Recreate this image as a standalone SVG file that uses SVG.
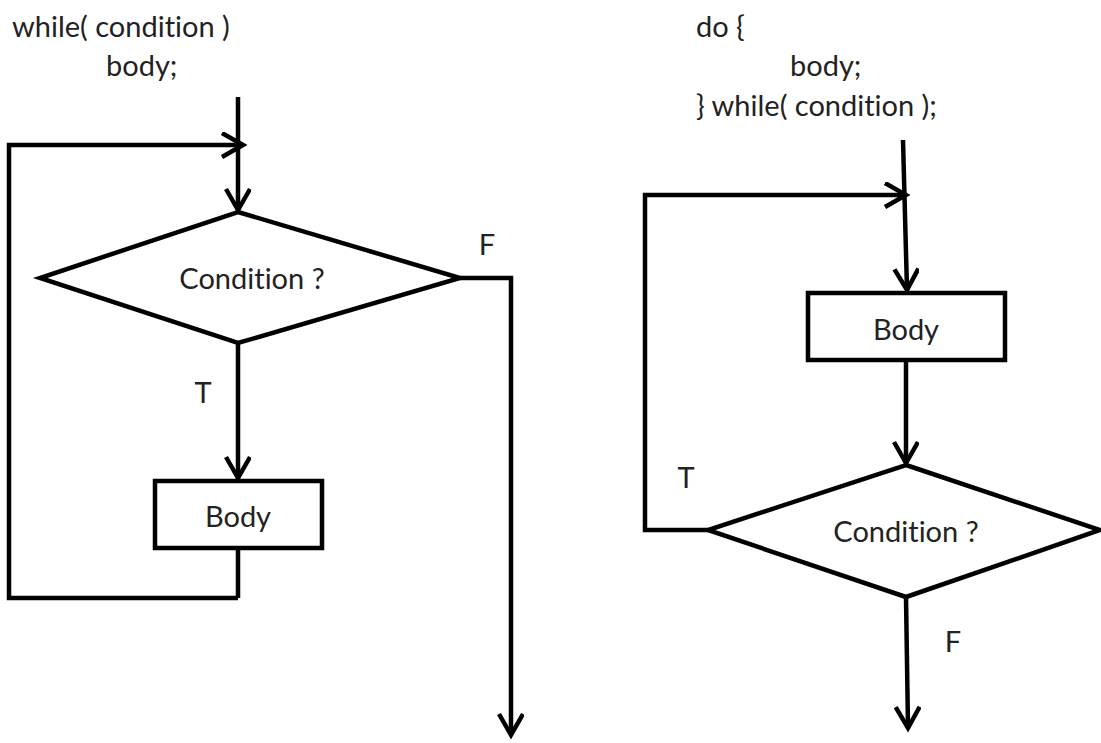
<svg xmlns="http://www.w3.org/2000/svg" width="1101" height="743" viewBox="0 0 1101 743">
<style>
.ln{fill:none;stroke:#000;stroke-width:4.5;stroke-linejoin:miter}
.nd{fill:#fff;stroke:#000;stroke-width:4.5}
.tx{font-family:Lato,"Liberation Sans",sans-serif;font-size:29px;fill:#222;font-variant-ligatures:none}
.c{text-anchor:middle}
</style>
<defs>
<marker id="ah" markerUnits="userSpaceOnUse" markerWidth="30" markerHeight="30" refX="24" refY="13" orient="auto">
<path d="M3,1 L24,13 L3,25" fill="none" stroke="#000" stroke-width="4.5"/>
</marker>
</defs>
<rect width="1101" height="743" fill="#fff"/>
<g id="code">
<text class="tx" x="12" y="37">while( condition )</text>
<text class="tx" x="106" y="76">body;</text>
<text class="tx" x="696" y="37">do {</text>
<text class="tx" x="790" y="76">body;</text>
<text class="tx" x="696" y="116">} while( condition );</text>
</g>
<g id="connectors">
<path class="ln" d="M238,97 L238,210" marker-end="url(#ah)"/>
<path class="ln" d="M238,598 L238,548 M238,598 L9,598 L9,145 L243,145" marker-end="url(#ah)"/>
<path class="ln" d="M238,343 L238,478" marker-end="url(#ah)"/>
<path class="ln" d="M460,278 L511,278 L511,735" marker-end="url(#ah)"/>
<path class="ln" d="M903,140 L907,290" marker-end="url(#ah)"/>
<path class="ln" d="M708,530 L645,530 L645,195 L906,195" marker-end="url(#ah)"/>
<path class="ln" d="M906,360 L906,463" marker-end="url(#ah)"/>
<path class="ln" d="M906,597 L908,728" marker-end="url(#ah)"/>
<text class="tx" x="487" y="255" text-anchor="middle">F</text>
<text class="tx" x="203" y="403" text-anchor="middle">T</text>
<text class="tx" x="686" y="488" text-anchor="middle">T</text>
<text class="tx" x="953" y="652" text-anchor="middle">F</text>
</g>
<g id="cond1">
<polygon class="nd" points="238,212 460,278 238,343 40,278"/>
<text class="tx c" x="252" y="289">Condition ?</text>
</g>
<g id="body1">
<rect class="nd" x="155" y="481" width="167" height="67"/>
<text class="tx c" x="238" y="527">Body</text>
</g>
<g id="body2">
<rect class="nd" x="808" y="293" width="197" height="67"/>
<text class="tx c" x="906" y="340">Body</text>
</g>
<g id="cond2">
<polygon class="nd" points="906,465 1100,530 906,597 708,530"/>
<text class="tx c" x="906" y="542">Condition ?</text>
</g>
</svg>
